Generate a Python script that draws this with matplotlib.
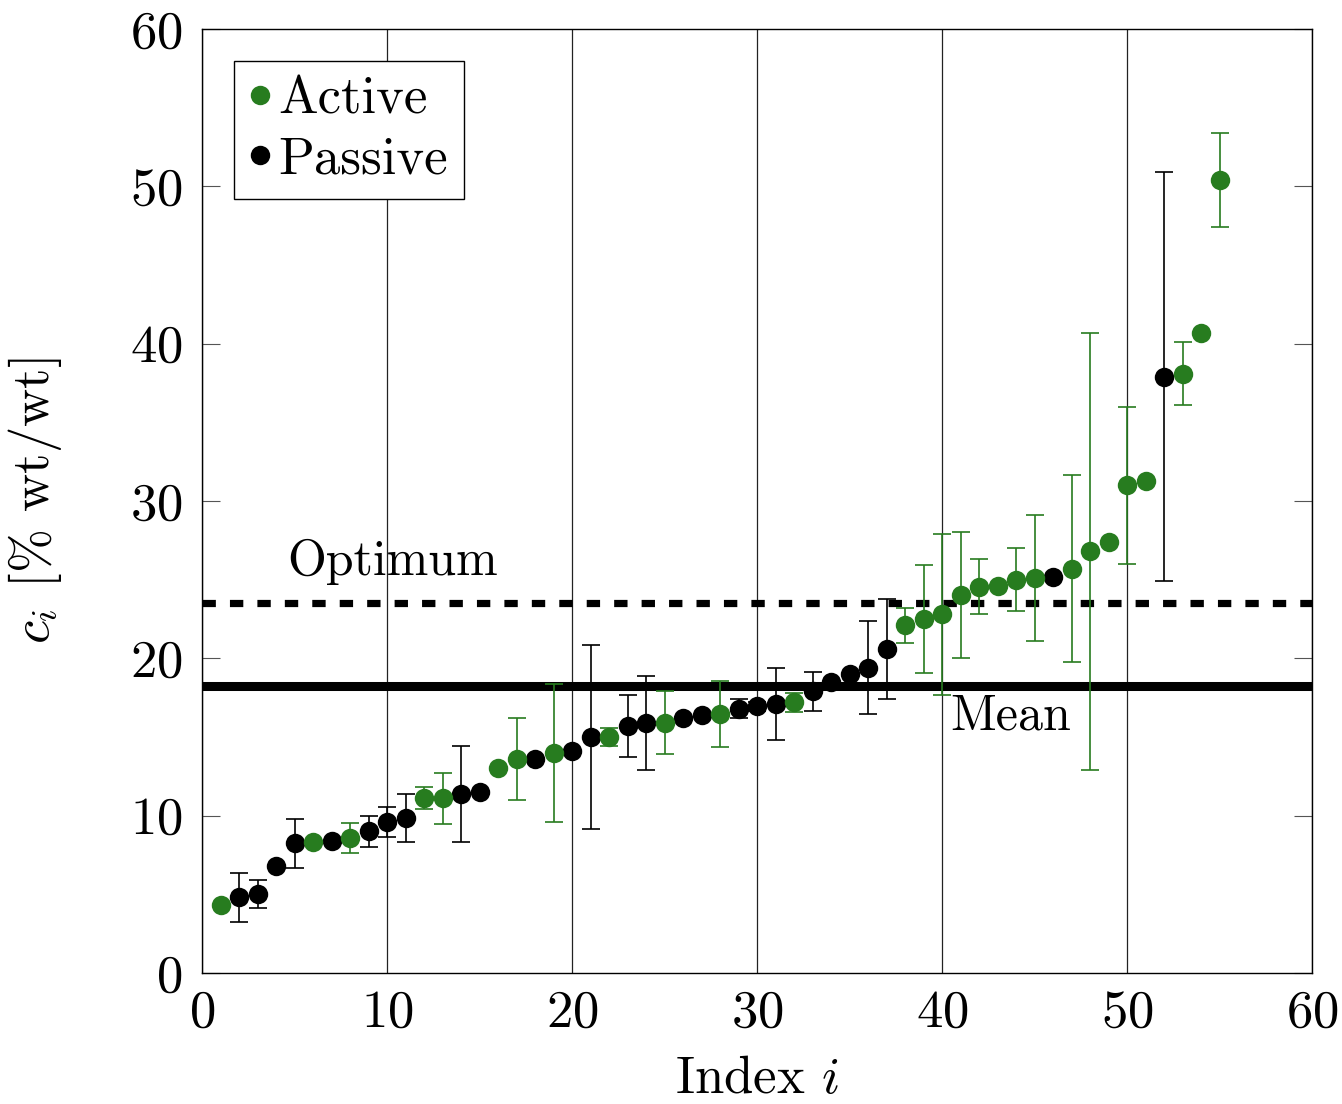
#!/usr/bin/env python3

import matplotlib
matplotlib.use("Agg")
import matplotlib.pyplot as plt
import numpy as np

# index, value, error (0 = no error bar)
active_i = [1, 6, 8, 12, 13, 16, 17, 19, 22, 25, 28, 32, 38, 39, 40, 41, 42, 43,
            44, 45, 47, 48, 49, 50, 51, 53, 54, 55]
active_c = [4.3, 8.3, 8.6, 11.1, 11.1, 13.0, 13.6, 14.0, 15.0, 15.9, 16.45, 17.2,
            22.1, 22.5, 22.8, 24.0, 24.55, 24.6, 25.0, 25.1, 25.7, 26.8, 27.4,
            31.0, 31.3, 38.1, 40.7, 50.4]
active_err = [0, 0, 0.95, 0.7, 1.6, 0, 2.6, 4.4, 0.55, 2.0, 2.1, 0.6,
              1.1, 3.45, 5.1, 4.0, 1.75, 0, 2.0, 4.0, 5.95, 13.9, 0,
              5.0, 0, 2.0, 0, 3.0]

passive_i = [2, 3, 4, 5, 7, 9, 10, 11, 14, 15, 18, 20, 21, 23, 24, 26, 27, 29,
             30, 31, 33, 34, 35, 36, 37, 46, 52]
passive_c = [4.8, 5.0, 6.8, 8.25, 8.4, 9.0, 9.6, 9.85, 11.35, 11.5, 13.6, 14.1,
             15.0, 15.7, 15.9, 16.2, 16.4, 16.8, 16.95, 17.1, 17.9, 18.5, 19.0,
             19.4, 20.6, 25.2, 37.9]
passive_err = [1.55, 0.9, 0, 1.55, 0, 1.0, 0.95, 1.55, 3.05, 0, 0, 0,
               5.85, 2.0, 3.0, 0, 0, 0.6, 0.3, 2.3, 1.25, 0, 0,
               2.95, 3.2, 0, 13.0]

mean_c = 18.25
optimum_c = 23.5

green = "#277c1f"


def _main():
    plt.rcParams["font.family"] = "serif"
    plt.rcParams["font.serif"] = ["cmr10"]
    plt.rcParams["mathtext.fontset"] = "cm"
    plt.rcParams["axes.formatter.use_mathtext"] = True
    plt.rcParams["font.size"] = 38

    fig = plt.figure(figsize=(13.42, 11.04), dpi=100)
    ax = fig.add_axes([202 / 1342, 1 - 973 / 1104, 1110 / 1342, 944 / 1104])

    ax.axhline(mean_c, color="black", lw=6.5, zorder=2)
    ax.axhline(optimum_c, color="black", lw=5.2, dashes=(1.85, 1.95), zorder=2)

    for xs, ys, es, col in [(active_i, active_c, active_err, green),
                            (passive_i, passive_c, passive_err, "black")]:
        xs = np.array(xs)
        ys = np.array(ys)
        es = np.array(es)
        m = es > 0
        ax.errorbar(xs[m], ys[m], yerr=es[m], fmt="none", ecolor=col,
                    elinewidth=1.2, capsize=6.5, capthick=1.2, zorder=3)

    ax.plot(passive_i, passive_c, "o", color="black", ms=14, mew=0,
            label="Passive", zorder=4)
    ax.plot(active_i, active_c, "o", color=green, ms=14, mew=0,
            label="Active", zorder=4)

    ax.text(10.3, 26.1, "Optimum", ha="center", va="center", fontsize=36)
    ax.text(43.7, 16.3, "Mean", ha="center", va="center", fontsize=36)

    ax.set_xlim(0, 60)
    ax.set_ylim(0, 60)
    ax.set_xticks(np.arange(0, 61, 10))
    ax.set_yticks(np.arange(0, 61, 10))
    ax.grid(axis="x", color="#222222", lw=0.9)
    ax.set_axisbelow(True)
    ax.tick_params(axis="y", direction="in", length=13, width=0.8,
                   left=True, right=True, pad=14, color="#555555")
    ax.tick_params(axis="x", direction="in", length=0, pad=12)
    for s in ax.spines.values():
        s.set_linewidth(1.0)

    ax.set_xlabel("Index $i$", labelpad=14)
    ax.set_ylabel(r"$c_i$ [% wt/wt]")
    ax.yaxis.set_label_coords(-0.124, 0.5)

    h, l = ax.get_legend_handles_labels()
    leg = ax.legend(h[::-1], l[::-1], loc="upper left", fancybox=False,
                    edgecolor="black", framealpha=1, handlelength=0.4,
                    handletextpad=0.15, borderaxespad=0.6, borderpad=0.3,
                    labelspacing=0.25, markerscale=1.0)
    leg.get_frame().set_linewidth(1.0)

    fig.savefig("out.png", dpi=100)


if __name__ == "__main__":
    _main()
